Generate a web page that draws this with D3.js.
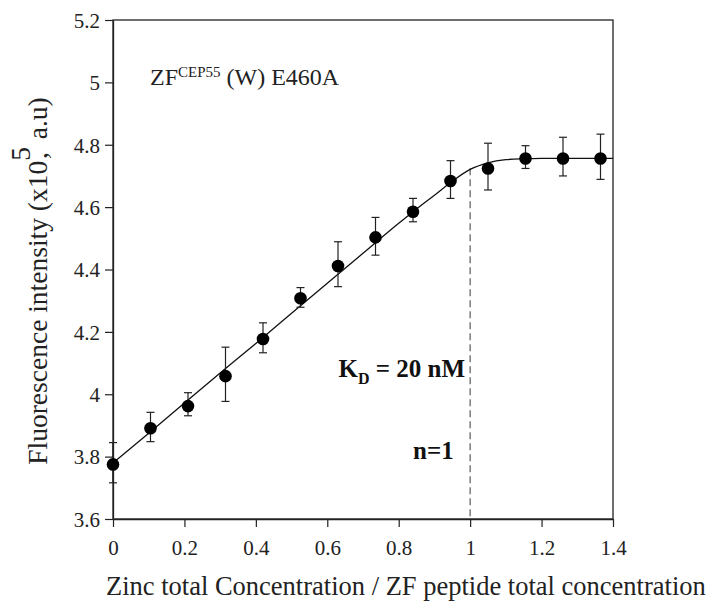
<!DOCTYPE html>
<html><head><meta charset="utf-8">
<script src="https://cdn.jsdelivr.net/npm/d3@7"></script>
<style>body{margin:0;background:#fff;} text{font-family:"Liberation Serif","Times New Roman",serif;}</style>
</head><body>
<svg id="c" width="717" height="603"></svg>
<script>
const ratio = [0,0.105,0.21,0.315,0.42,0.525,0.63,0.735,0.84,0.945,1.05,1.155,1.26,1.365];
const fluor = [3.775,3.891,3.962,4.058,4.177,4.308,4.411,4.503,4.585,4.684,4.724,4.756,4.756,4.756];
const errUp = [0.070,0.051,0.043,0.093,0.052,0.034,0.078,0.064,0.043,0.065,0.081,0.041,0.068,0.078];
const errDown = [0.059,0.043,0.031,0.081,0.044,0.029,0.066,0.057,0.032,0.056,0.069,0.032,0.056,0.067];
const fitX = [0,0.1,0.2,0.3,0.4,0.5,0.6,0.7,0.8,0.85,0.9,0.95,1.0,1.05,1.1,1.15,1.2,1.3,1.4];
const fitY = [3.78,3.875,3.972,4.068,4.163,4.26,4.356,4.452,4.548,4.594,4.638,4.683,4.721,4.742,4.752,4.755,4.756,4.756,4.756];
const xTicks = [0,0.2,0.4,0.6,0.8,1,1.2,1.4];
const yTicks = [3.6,3.8,4.0,4.2,4.4,4.6,4.8,5.0,5.2];

const svg = d3.select("#c");
const L=113,R=613,T=20,B=519;
const x = d3.scaleLinear().domain([0,1.4]).range([L,R]);
const y = d3.scaleLinear().domain([3.6,5.2]).range([B,T]);

svg.append("rect").attr("x",L).attr("y",T).attr("width",R-L).attr("height",B-T)
  .attr("fill","none").attr("stroke","#222").attr("stroke-width",1.3);

const xa = svg.append("g").attr("transform",`translate(0,${B})`)
  .call(d3.axisBottom(x).tickValues(xTicks).tickFormat(d3.format("~g")).tickSize(8).tickSizeOuter(0));
const ya = svg.append("g").attr("transform",`translate(${L},0)`)
  .call(d3.axisLeft(y).tickValues(yTicks).tickFormat(d3.format("~g")).tickSize(8).tickSizeOuter(0));
[xa,ya].forEach(a=>{
  a.attr("font-family","Liberation Serif");
  a.select(".domain").attr("stroke","#222").attr("stroke-width",1.3);
  a.selectAll(".tick line").attr("stroke","#222").attr("stroke-width",1.2);
  a.selectAll(".tick text").attr("font-family","Liberation Serif").attr("font-size",21).attr("fill","#222");
});
xa.selectAll(".tick text").attr("y",36).attr("dy",0);
ya.selectAll(".tick text").attr("x",-13).attr("dy","0.35em");

svg.append("line").attr("x1",x(1)).attr("x2",x(1)).attr("y1",y(4.725)).attr("y2",y(3.6))
  .attr("stroke","#666").attr("stroke-width",1.3).attr("stroke-dasharray","7,4");

svg.append("path").datum(fitX.map((d,i)=>[d,fitY[i]]))
  .attr("d",d3.line().x(d=>x(d[0])).y(d=>y(d[1])).curve(d3.curveMonotoneX))
  .attr("fill","none").attr("stroke","#111").attr("stroke-width",1.3);

const eb = svg.append("g").attr("stroke","#222").attr("stroke-width",1.2);
ratio.forEach((r,i)=>{
  const cx=x(r), y1=y(fluor[i]+errUp[i]), y2=y(fluor[i]-errDown[i]);
  eb.append("line").attr("x1",cx).attr("x2",cx).attr("y1",y1).attr("y2",y2);
  eb.append("line").attr("x1",cx-4).attr("x2",cx+4).attr("y1",y1).attr("y2",y1);
  eb.append("line").attr("x1",cx-4).attr("x2",cx+4).attr("y1",y2).attr("y2",y2);
});
svg.append("g").selectAll("circle").data(ratio).join("circle")
  .attr("cx",d=>x(d)).attr("cy",(d,i)=>y(fluor[i])).attr("r",6.3).attr("fill","#000");

const t = svg.append("text").attr("x",150).attr("y",85).attr("font-size",24).attr("fill","#222");
t.append("tspan").text("ZF");
t.append("tspan").attr("font-size",15).attr("dy",-8).text("CEP55");
t.append("tspan").attr("dy",8).text(" (W) E460A");

const k = svg.append("text").attr("x",465).attr("y",377).attr("text-anchor","end").attr("font-size",25).attr("font-weight","bold").attr("fill","#111");
k.append("tspan").text("K");
k.append("tspan").attr("font-size",16).attr("dy",7).text("D");
k.append("tspan").attr("dy",-7).text(" = 20 nM");

svg.append("text").attr("x",413).attr("y",459).attr("font-size",25).attr("font-weight","bold").attr("fill","#111").text("n=1");

svg.append("text").attr("x",106).attr("y",595).attr("font-size",26.5).attr("fill","#222")
  .text("Zinc total Concentration / ZF peptide total concentration");
const yl = svg.append("text").attr("transform","translate(47,281) rotate(-90)").attr("text-anchor","middle").attr("font-size",27.5).attr("fill","#222");
yl.append("tspan").text("Fluorescence intensity (x10");
yl.append("tspan").attr("dy",-17).text("5");
yl.append("tspan").attr("dy",17).attr("dx",-12).text(",");
yl.append("tspan").attr("dx",6).text(" a.u)");
</script>
</body></html>
